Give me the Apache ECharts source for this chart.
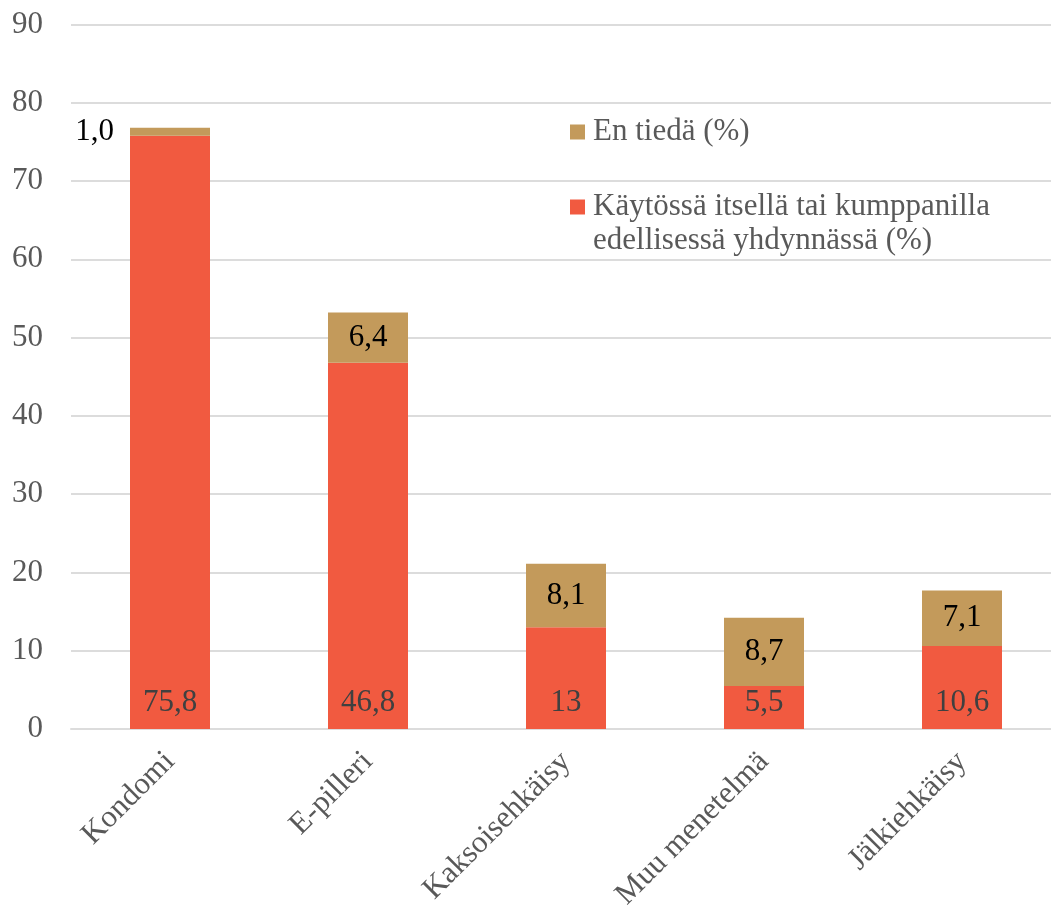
<!DOCTYPE html>
<html>
<head>
<meta charset="utf-8">
<script src="https://cdn.jsdelivr.net/npm/echarts@6/dist/echarts.min.js"></script>
<style>
html,body{margin:0;padding:0;background:#fff;}
#chart{width:1051px;height:913px;}
</style>
</head>
<body>
<div id="chart"></div>
<script>
var categories = ['Kondomi', 'E-pilleri', 'Kaksoisehkäisy', 'Muu menetelmä', 'Jälkiehkäisy'];
var usedValues = [75.8, 46.8, 13, 5.5, 10.6];
var unknownValues = [1.0, 6.4, 8.1, 8.7, 7.1];
var usedLabels = ['75,8', '46,8', '13', '5,5', '10,6'];
var unknownLabels = ['1,0', '6,4', '8,1', '8,7', '7,1'];
var yTicks = [0, 10, 20, 30, 40, 50, 60, 70, 80, 90];
var seriesNames = ['Käytössä itsellä tai kumppanilla edellisessä yhdynnässä (%)', 'En tiedä (%)'];

var FONT = '"Liberation Serif", "Times New Roman", serif';
var RED = '#F15A40';
var TAN = '#C39A5B';
var GRAY = '#595959';

var chart = echarts.init(document.getElementById('chart'), null, {renderer: 'canvas'});

var usedData = usedValues.map(function (v, i) {
  return {value: v, label: {formatter: usedLabels[i]}};
});
var unknownData = unknownValues.map(function (v, i) {
  var d = {value: v, label: {formatter: unknownLabels[i]}};
  if (i === 0) {
    d.label.position = 'left';
    d.label.distance = 16;
  }
  return d;
});

var option = {
  animation: false,
  backgroundColor: '#fff',
  grid: {left: 71, width: 990, top: 24.5, bottom: 184, containLabel: false, outerBoundsMode: 'none'},
  legend: [
    {
      data: [seriesNames[1]],
      orient: 'vertical',
      left: 570,
      top: 115,
      padding: 0,
      itemWidth: 15,
      itemHeight: 15,
      icon: 'rect',
      textStyle: {fontFamily: FONT, fontSize: 31, color: GRAY, lineHeight: 34, padding: [0, 0, 0, 3]}
    },
    {
      data: [seriesNames[0]],
      orient: 'vertical',
      left: 570,
      top: 156,
      padding: 0,
      itemWidth: 15,
      itemHeight: 15,
      icon: 'rect',
      formatter: function (name) { return '\n' + name.replace('kumppanilla ', 'kumppanilla\n'); },
      textStyle: {fontFamily: FONT, fontSize: 31, color: GRAY, lineHeight: 34, padding: [0, 0, 0, 3]}
    }
  ],
  xAxis: {
    type: 'category',
    data: categories,
    axisLine: {show: true, lineStyle: {color: '#dcdcdc', width: 2}},
    axisTick: {show: false},
    axisLabel: {
      rotate: 45,
      margin: 28,
      interval: 0,
      fontFamily: FONT,
      fontSize: 31,
      color: GRAY
    }
  },
  yAxis: {
    type: 'value',
    min: 0,
    max: 90,
    interval: 10,
    axisLine: {show: false},
    axisTick: {show: false},
    splitLine: {lineStyle: {color: '#dcdcdc', width: 2}},
    axisLabel: {
      margin: 28,
      fontFamily: FONT,
      fontSize: 31,
      color: GRAY,
      formatter: function (v) { return yTicks.indexOf(v) >= 0 ? String(v) : ''; }
    }
  },
  series: [
    {
      name: seriesNames[0],
      type: 'bar',
      stack: 'total',
      barWidth: 80,
      itemStyle: {color: RED},
      label: {
        show: true,
        position: 'insideBottom',
        distance: 11,
        fontFamily: FONT,
        fontSize: 31,
        color: '#404040'
      },
      data: usedData
    },
    {
      name: seriesNames[1],
      type: 'bar',
      stack: 'total',
      barWidth: 80,
      itemStyle: {color: TAN},
      label: {
        show: true,
        position: 'inside',
        fontFamily: FONT,
        fontSize: 31,
        color: '#000'
      },
      data: unknownData
    }
  ]
};

chart.setOption(option);
</script>
</body>
</html>
